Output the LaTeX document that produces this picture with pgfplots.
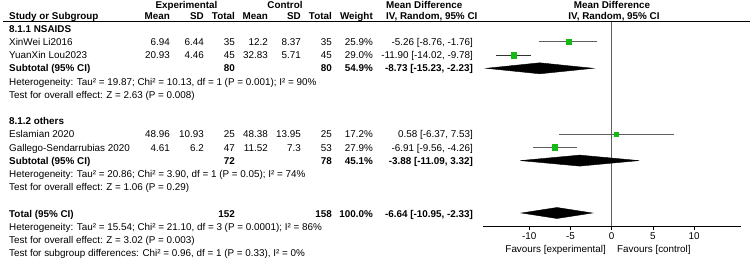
\documentclass[border=0pt]{standalone}
\usepackage{fontspec}
\setmainfont{Liberation Sans}
\usepackage{pgfplots}
\pgfplotsset{compat=1.18}
\definecolor{fgreen}{RGB}{20,185,20}
\definecolor{cigray}{RGB}{95,95,95}
\newcommand\tl[3]{\node[anchor=base west] at (#1,#2) {#3};}
\newcommand\tr[3]{\node[anchor=base east] at (#1,#2) {#3};}
\newcommand\tc[3]{\node[anchor=base] at (#1,#2) {#3};}
\begin{document}
\begin{tikzpicture}[every node/.style={font=\fontsize{9.9}{11}\selectfont, inner sep=0pt}]
\useasboundingbox (0,0) rectangle (750bp,-262bp);
\begin{axis}[at={(482.7bp,-226bp)}, anchor=south west, scale only axis,
  width=258.4bp, height=205bp, xmin=-15.65, xmax=15.7, ymin=-226, ymax=-21,
  axis x line=bottom, axis y line=none, axis line style={-,black,line width=0.8pt},
  xtick={-10,-5,0,5,10}, xticklabels={-10,-5,0,5,10}, xtick align=outside,
  major tick length=4bp, tick style={black,line width=0.8pt},
  xticklabel style={font=\fontsize{9.9}{11}\selectfont, inner sep=2.5pt},
  clip=false]
% zero line
\addplot[cigray, line width=0.8pt] coordinates {(0,-21) (0,-226)};
% confidence intervals
\addplot[cigray, line width=0.8pt] coordinates {(-8.76,-41.5) (-1.76,-41.5)};
\addplot[black!80, line width=0.8pt] coordinates {(-14.02,-55) (-9.78,-55)};
\addplot[cigray, line width=0.8pt] coordinates {(-6.37,-134.2) (7.53,-134.2)};
\addplot[cigray, line width=0.8pt] coordinates {(-9.56,-147.4) (-4.26,-147.4)};
% study squares
\addplot[only marks, mark=square*, mark size=2.6bp, fgreen] coordinates {(-5.26,-41.5)};
\addplot[only marks, mark=square*, mark size=2.85bp, fgreen] coordinates {(-11.90,-55)};
\addplot[only marks, mark=square*, mark size=2.0bp, fgreen] coordinates {(0.58,-134.2)};
\addplot[only marks, mark=square*, mark size=2.75bp, fgreen] coordinates {(-6.91,-147.4)};
% diamonds
\addplot[fill=black, draw=black] coordinates {(-15.23,-68.3) (-8.73,-62.8) (-2.23,-68.3) (-8.73,-73.8)} --cycle;
\addplot[fill=black, draw=black] coordinates {(-11.09,-160.6) (-3.88,-155.1) (3.32,-160.6) (-3.88,-166.1)} --cycle;
\addplot[fill=black, draw=black] coordinates {(-10.95,-213) (-6.64,-207.5) (-2.33,-213) (-6.64,-218.5)} --cycle;
\end{axis}
\draw[line width=0.8pt] (3bp,-21bp) -- (750bp,-21bp);
\begin{scope}[x=1bp,y=-1bp]
% headers
\tc{186.5}{8.5}{\bfseries Experimental}
\tc{285}{8.5}{\bfseries Control}
\tl{386}{8.5}{\bfseries Mean Difference}
\tc{612}{8.5}{\bfseries Mean Difference}
\tl{9}{19.5}{\bfseries Study or Subgroup}
\tr{170}{19.5}{\bfseries Mean}
\tr{204}{19.5}{\bfseries SD}
\tr{235}{19.5}{\bfseries Total}
\tr{268}{19.5}{\bfseries Mean}
\tr{301}{19.5}{\bfseries SD}
\tr{332}{19.5}{\bfseries Total}
\tr{373}{19.5}{\bfseries Weight}
\tl{386}{19.5}{\bfseries IV, Random, 95\% CI}
\tc{614}{19.5}{\bfseries IV, Random, 95\% CI}
% group 1
\tl{9}{32.3}{\bfseries 8.1.1 NSAIDS}
\tl{9}{45.5}{XinWei Li2016}
\tr{170}{45.5}{6.94}\tr{204}{45.5}{6.44}\tr{235}{45.5}{35}\tr{268}{45.5}{12.2}\tr{301}{45.5}{8.37}\tr{332}{45.5}{35}\tr{373}{45.5}{25.9\%}\tr{473}{45.5}{-5.26 [-8.76, -1.76]}
\tl{9}{58.7}{YuanXin Lou2023}
\tr{170}{58.7}{20.93}\tr{204}{58.7}{4.46}\tr{235}{58.7}{45}\tr{268}{58.7}{32.83}\tr{301}{58.7}{5.71}\tr{332}{58.7}{45}\tr{373}{58.7}{29.0\%}\tr{473}{58.7}{-11.90 [-14.02, -9.78]}
\tl{9}{71.9}{\bfseries Subtotal (95\% CI)}
\tr{235}{71.9}{\bfseries 80}\tr{332}{71.9}{\bfseries 80}\tr{373}{71.9}{\bfseries 54.9\%}\tr{473}{71.9}{\bfseries -8.73 [-15.23, -2.23]}
\tl{9}{85.1}{Heterogeneity: Tau² = 19.87; Chi² = 10.13, df = 1 (P = 0.001); I² = 90\%}
\tl{9}{98.3}{Test for overall effect: Z = 2.63 (P = 0.008)}
% group 2
\tl{9}{124.7}{\bfseries 8.1.2 others}
\tl{9}{137.9}{Eslamian 2020}
\tr{170}{137.9}{48.96}\tr{204}{137.9}{10.93}\tr{235}{137.9}{25}\tr{268}{137.9}{48.38}\tr{301}{137.9}{13.95}\tr{332}{137.9}{25}\tr{373}{137.9}{17.2\%}\tr{473}{137.9}{0.58 [-6.37, 7.53]}
\tl{9}{151.1}{Gallego-Sendarrubias 2020}
\tr{170}{151.1}{4.61}\tr{204}{151.1}{6.2}\tr{235}{151.1}{47}\tr{268}{151.1}{11.52}\tr{301}{151.1}{7.3}\tr{332}{151.1}{53}\tr{373}{151.1}{27.9\%}\tr{473}{151.1}{-6.91 [-9.56, -4.26]}
\tl{9}{164.3}{\bfseries Subtotal (95\% CI)}
\tr{235}{164.3}{\bfseries 72}\tr{332}{164.3}{\bfseries 78}\tr{373}{164.3}{\bfseries 45.1\%}\tr{473}{164.3}{\bfseries -3.88 [-11.09, 3.32]}
\tl{9}{177.5}{Heterogeneity: Tau² = 20.86; Chi² = 3.90, df = 1 (P = 0.05); I² = 74\%}
\tl{9}{190.7}{Test for overall effect: Z = 1.06 (P = 0.29)}
% total
\tl{9}{217.1}{\bfseries Total (95\% CI)}
\tr{235}{217.1}{\bfseries 152}\tr{332}{217.1}{\bfseries 158}\tr{373}{217.1}{\bfseries 100.0\%}\tr{473}{217.1}{\bfseries -6.64 [-10.95, -2.33]}
\tl{9}{230.3}{Heterogeneity: Tau² = 15.54; Chi² = 21.10, df = 3 (P = 0.0001); I² = 86\%}
\tl{9}{243.5}{Test for overall effect: Z = 3.02 (P = 0.003)}
\tl{9}{256.7}{Test for subgroup differences: Chi² = 0.96, df = 1 (P = 0.33), I² = 0\%}
% favours
\tr{606}{252.5}{Favours [experimental]}
\tl{617}{252.5}{Favours [control]}
\end{scope}
\end{tikzpicture}
\end{document}
